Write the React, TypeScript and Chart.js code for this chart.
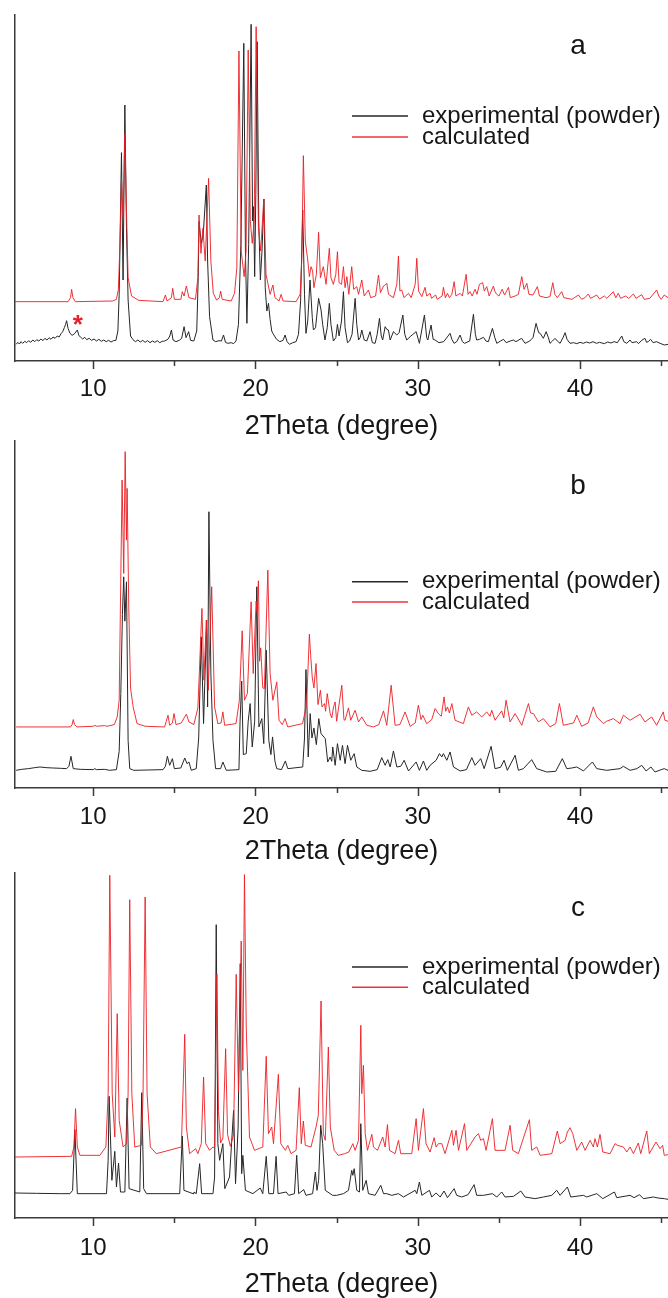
import React, { useEffect, useRef } from 'react';
import { Chart, registerables } from 'chart.js';

Chart.register(...registerables);

type P = [number, number];

// ---------- data ----------
const xTickLabels = [10, 20, 30, 40];
const minorTicks = [15, 25, 35, 45];
const seriesNames = ['experimental (powder)', 'calculated'];
const xTitle = '2Theta (degree)';
const X_MIN = 5.18;
const X_MAX = 45.42;
const starMark = { x: 9.05, y: 123 };

const expA: P[] = [[5.25,50],[5.35,56],[5.45,51],[5.55,58],[5.65,53],[5.78,59],[5.9,55],[6.02,61],[6.15,56],[6.28,63],[6.4,58],[6.52,64],[6.65,60],[6.78,66],[6.9,61],[7.02,68],[7.15,63],[7.28,70],[7.4,65],[7.52,72],[7.65,68],[7.78,75],[7.9,72],[8.02,82],[8.12,88],[8.22,100],[8.3,110],[8.36,121],[8.45,98],[8.57,83],[8.7,77],[8.85,82],[9.02,93],[9.12,76],[9.22,72],[9.35,66],[9.48,71],[9.6,64],[9.75,68],[9.9,62],[10.05,66],[10.2,60],[10.35,65],[10.5,59],[10.65,63],[10.8,58],[10.95,62],[11.1,57],[11.25,61],[11.4,62],[11.52,90],[11.6,200],[11.74,625],[11.84,243],[11.95,768],[12.05,400],[12.15,183],[12.3,75],[12.45,64],[12.6,58],[12.75,63],[12.9,57],[13.05,62],[13.2,56],[13.35,61],[13.5,55],[13.65,60],[13.8,56],[13.95,61],[14.1,55],[14.25,59],[14.4,60],[14.6,65],[14.72,75],[14.82,93],[14.92,63],[15.1,58],[15.3,62],[15.45,68],[15.6,103],[15.72,70],[15.88,88],[16.0,62],[16.2,60],[16.38,90],[16.47,250],[16.52,418],[16.66,353],[16.78,380],[16.97,528],[17.05,300],[17.17,133],[17.38,63],[17.55,58],[17.75,61],[17.9,60],[18.03,78],[18.15,56],[18.3,53],[18.5,55],[18.65,52],[18.8,60],[18.95,110],[19.1,350],[19.28,953],[19.38,330],[19.47,113],[19.58,350],[19.73,1010],[19.82,420],[19.88,463],[19.95,253],[20.02,500],[20.1,958],[20.2,420],[20.3,243],[20.4,330],[20.52,486],[20.6,220],[20.7,150],[20.8,173],[20.9,125],[21.0,90],[21.07,83],[21.3,65],[21.5,58],[21.7,62],[21.82,78],[21.95,58],[22.09,50],[22.3,55],[22.5,58],[22.65,80],[22.78,180],[22.91,453],[23.02,200],[23.11,83],[23.22,120],[23.36,243],[23.5,130],[23.57,93],[23.7,100],[23.89,188],[24.04,153],[24.14,110],[24.28,63],[24.42,100],[24.55,173],[24.65,110],[24.8,60],[24.95,70],[25.05,110],[25.15,75],[25.3,120],[25.42,208],[25.52,100],[25.67,55],[25.8,60],[25.95,80],[26.14,188],[26.24,110],[26.35,63],[26.45,70],[26.55,93],[26.7,63],[26.86,60],[27.06,88],[27.2,55],[27.37,53],[27.5,80],[27.64,128],[27.75,75],[27.84,63],[27.99,103],[28.09,95],[28.19,93],[28.3,63],[28.5,88],[28.71,78],[28.85,85],[29.08,138],[29.2,80],[29.32,63],[29.53,73],[29.7,80],[29.9,88],[30.1,53],[30.41,138],[30.55,70],[30.62,63],[30.82,108],[30.95,65],[31.07,63],[31.3,55],[31.6,58],[31.99,83],[32.1,65],[32.24,53],[32.4,58],[32.61,78],[32.75,58],[32.88,53],[33.2,60],[33.43,140],[33.55,80],[33.63,63],[33.8,65],[34.05,71],[34.2,60],[34.35,58],[34.6,98],[34.75,70],[34.87,53],[35.1,60],[35.28,65],[35.45,55],[35.7,60],[35.89,63],[36.05,58],[36.4,68],[36.61,53],[36.9,60],[37.1,70],[37.29,113],[37.45,85],[37.54,83],[37.74,68],[37.91,88],[38.05,70],[38.15,53],[38.3,60],[38.46,68],[38.6,60],[38.77,53],[38.95,70],[39.08,85],[39.2,65],[39.38,53],[39.6,55],[39.8,52],[40.0,56],[40.2,53],[40.4,57],[40.6,54],[40.8,58],[41.0,53],[41.2,56],[41.5,52],[41.7,57],[41.9,54],[42.1,58],[42.3,55],[42.57,75],[42.7,58],[42.88,53],[43.08,63],[43.2,55],[43.49,58],[43.6,52],[43.8,62],[44.0,68],[44.1,56],[44.2,58],[44.35,65],[44.5,55],[44.72,58],[44.93,53],[45.19,48],[45.42,50]];

const calcA: P[] = [[5.18,178],[8.45,178],[8.6,190],[8.67,215],[8.75,190],[8.9,178],[11.2,180],[11.43,185],[11.55,215],[11.65,350],[11.74,550],[11.84,430],[11.95,683],[12.05,450],[12.15,250],[12.36,195],[12.8,182],[14.3,178],[14.45,198],[14.55,180],[14.82,190],[14.9,218],[15.0,185],[15.4,185],[15.49,208],[15.6,195],[15.74,225],[15.9,190],[16.3,185],[16.45,250],[16.52,438],[16.64,323],[16.76,398],[16.9,300],[17.11,548],[17.25,300],[17.4,203],[17.6,183],[17.78,190],[17.85,210],[17.95,185],[18.5,180],[18.71,203],[18.85,280],[18.98,930],[19.12,330],[19.3,253],[19.42,330],[19.55,933],[19.68,420],[19.8,353],[19.92,420],[20.04,1003],[20.18,400],[20.32,330],[20.51,486],[20.65,260],[20.9,200],[21.07,228],[21.2,190],[21.45,180],[21.58,200],[21.7,180],[22.5,178],[22.75,200],[22.85,300],[22.95,616],[23.07,360],[23.22,303],[23.32,253],[23.42,283],[23.52,270],[23.6,220],[23.75,260],[23.89,386],[24.0,250],[24.18,283],[24.35,230],[24.55,338],[24.65,250],[24.8,230],[24.95,260],[25.05,328],[25.15,235],[25.3,230],[25.42,283],[25.52,220],[25.63,253],[25.75,200],[25.93,283],[26.05,215],[26.24,223],[26.35,200],[26.55,243],[26.7,195],[26.96,213],[27.1,190],[27.4,195],[27.58,258],[27.7,205],[27.89,225],[27.99,228],[28.09,233],[28.2,200],[28.5,190],[28.71,230],[28.81,315],[28.9,210],[29.01,213],[29.15,190],[29.43,203],[29.6,190],[29.84,230],[29.94,308],[30.05,210],[30.25,193],[30.45,221],[30.55,195],[30.76,203],[30.85,188],[31.1,198],[31.2,185],[31.5,195],[31.58,221],[31.7,190],[31.83,203],[31.95,190],[32.1,200],[32.24,238],[32.35,195],[32.61,203],[32.75,195],[32.98,260],[33.1,200],[33.22,208],[33.35,195],[33.53,215],[33.65,200],[33.8,230],[34.0,235],[34.1,210],[34.25,223],[34.4,195],[34.66,225],[34.76,208],[34.87,200],[35.0,195],[35.2,215],[35.35,198],[35.59,221],[35.7,190],[36.0,195],[36.2,200],[36.41,253],[36.55,215],[36.72,233],[36.85,200],[37.1,198],[37.37,223],[37.5,195],[37.9,190],[38.15,193],[38.32,235],[38.45,200],[38.6,190],[38.87,208],[39.0,190],[39.5,185],[39.9,198],[40.1,185],[40.3,190],[40.51,201],[40.65,188],[41.03,198],[41.2,186],[41.5,195],[41.65,188],[42.05,208],[42.2,190],[42.36,203],[42.5,188],[42.8,195],[43.0,188],[43.29,201],[43.45,188],[43.8,199],[43.95,185],[44.3,188],[44.72,213],[44.85,195],[45.0,185],[45.19,198],[45.42,190]];

const expB: P[] = [[5.25,53],[5.6,56],[6.0,58],[6.4,61],[6.72,63],[7.1,61],[7.5,60],[8.0,59],[8.36,58],[8.5,65],[8.63,95],[8.77,58],[9.2,56],[10.0,55],[10.1,58],[10.2,55],[10.7,56],[11.0,53],[11.43,55],[11.6,110],[11.7,283],[11.8,520],[11.88,633],[11.95,500],[12.05,618],[12.15,143],[12.25,58],[12.5,53],[14.3,55],[14.45,65],[14.57,95],[14.71,68],[14.88,88],[15.0,58],[15.4,60],[15.64,90],[15.78,73],[15.9,78],[16.04,53],[16.35,58],[16.5,150],[16.66,453],[16.8,193],[16.99,503],[17.05,243],[17.13,828],[17.25,343],[17.38,143],[17.54,58],[17.85,58],[17.99,78],[18.2,53],[18.98,55],[19.05,200],[19.15,320],[19.25,100],[19.43,103],[19.55,200],[19.67,253],[19.8,123],[19.95,200],[20.08,603],[20.21,183],[20.39,208],[20.51,133],[20.66,413],[20.82,143],[20.95,100],[21.05,153],[21.2,80],[21.31,58],[21.6,55],[21.84,81],[21.99,58],[22.91,63],[23.02,150],[23.11,355],[23.25,93],[23.37,223],[23.48,150],[23.6,180],[23.75,130],[23.9,208],[24.04,163],[24.3,148],[24.45,78],[24.6,93],[24.7,80],[24.76,123],[24.91,68],[25.05,133],[25.22,83],[25.36,128],[25.52,73],[25.67,128],[25.87,83],[26.08,103],[26.24,63],[26.55,53],[27.06,50],[27.5,55],[27.78,91],[27.99,68],[28.15,85],[28.3,63],[28.5,111],[28.71,63],[28.95,65],[29.16,83],[29.43,51],[29.9,78],[30.1,53],[30.35,81],[30.55,53],[30.76,68],[31.13,83],[31.34,103],[31.48,93],[31.58,103],[31.79,83],[31.99,108],[32.2,63],[32.61,51],[33.0,55],[33.33,91],[33.53,68],[33.88,88],[34.09,58],[34.52,125],[34.76,58],[35.1,62],[35.32,83],[35.52,53],[36.0,98],[36.2,53],[36.51,58],[37.02,85],[37.33,58],[37.95,48],[38.5,50],[38.91,88],[39.18,58],[39.5,60],[39.8,63],[40.21,51],[40.76,78],[41.03,58],[41.64,53],[42.46,58],[42.67,65],[43.08,53],[43.5,58],[43.8,68],[44.07,51],[44.37,63],[44.62,48],[45.0,55],[45.19,58],[45.42,53]];

const calcB: P[] = [[5.25,183],[8.6,183],[8.7,190],[8.77,205],[8.85,190],[9.0,183],[10.0,185],[10.1,188],[10.2,185],[10.7,187],[10.85,185],[11.3,190],[11.48,213],[11.6,263],[11.78,923],[11.88,643],[11.97,1008],[12.05,743],[12.09,898],[12.19,543],[12.3,300],[12.46,243],[12.7,193],[13.2,185],[14.4,183],[14.5,200],[14.61,218],[14.71,188],[14.88,195],[14.98,223],[15.1,190],[15.43,195],[15.6,210],[15.74,221],[15.9,198],[16.2,190],[16.45,240],[16.7,538],[16.82,323],[16.97,503],[17.09,293],[17.3,603],[17.48,243],[17.68,193],[17.88,195],[17.99,228],[18.1,188],[18.8,193],[19.0,260],[19.18,471],[19.32,263],[19.5,283],[19.73,558],[19.86,343],[20.04,560],[20.09,530],[20.18,621],[20.25,380],[20.32,420],[20.45,300],[20.55,298],[20.76,653],[20.9,343],[21.07,263],[21.31,318],[21.45,203],[21.65,190],[21.82,208],[21.99,183],[22.9,193],[23.15,250],[23.32,461],[23.4,398],[23.5,330],[23.6,300],[23.73,373],[23.85,250],[24.0,293],[24.1,243],[24.25,253],[24.32,230],[24.42,283],[24.6,223],[24.7,210],[24.81,243],[24.91,258],[25.0,200],[25.32,308],[25.45,205],[25.52,203],[25.73,240],[25.87,203],[26.14,233],[26.35,198],[26.55,213],[26.86,188],[27.27,183],[27.6,190],[27.89,231],[28.09,188],[28.36,308],[28.6,188],[28.9,190],[29.22,228],[29.53,185],[29.84,195],[30.04,248],[30.2,205],[30.31,218],[30.55,193],[30.86,205],[31.07,238],[31.27,223],[31.45,215],[31.62,273],[31.72,230],[31.83,243],[31.95,225],[32.1,253],[32.3,203],[32.81,193],[33.12,243],[33.33,218],[33.63,228],[33.94,213],[34.25,228],[34.45,215],[34.56,233],[34.76,203],[35.17,231],[35.3,210],[35.44,263],[35.69,198],[36.0,223],[36.41,188],[36.82,253],[36.95,225],[37.13,223],[37.43,198],[37.74,208],[38.15,183],[38.5,193],[38.73,253],[38.97,188],[39.6,195],[39.8,218],[40.1,185],[40.5,195],[40.82,243],[41.03,213],[41.44,193],[41.64,200],[42.05,208],[42.46,193],[42.67,218],[43.08,203],[43.7,221],[44.0,198],[44.41,213],[44.72,188],[45.13,228],[45.23,203],[45.42,200]];

const expC: P[] = [[5.18,75],[6.5,74],[8.0,73],[8.57,73],[8.73,83],[8.87,265],[9.02,73],[10.82,73],[10.92,173],[10.98,365],[11.15,113],[11.33,200],[11.43,93],[11.56,165],[11.68,78],[11.95,78],[12.09,360],[12.21,88],[12.87,78],[12.99,376],[13.11,88],[13.28,73],[15.33,73],[15.49,246],[15.59,83],[16.15,73],[16.21,78],[16.35,73],[16.56,163],[16.68,73],[17.38,73],[17.48,123],[17.58,880],[17.68,223],[17.79,173],[17.99,223],[18.11,88],[18.4,123],[18.65,323],[18.77,103],[18.93,273],[19.06,763],[19.15,133],[19.22,188],[19.38,83],[19.84,73],[20.29,90],[20.45,73],[20.66,185],[20.82,73],[21.11,73],[21.27,185],[21.39,73],[21.89,78],[22.05,68],[22.4,73],[22.54,188],[22.66,73],[22.97,85],[23.11,68],[23.52,73],[23.69,138],[23.79,83],[23.89,113],[24.02,278],[24.14,223],[24.3,83],[24.75,68],[25.0,68],[25.42,73],[25.73,83],[25.93,143],[26.0,128],[26.08,148],[26.24,83],[26.41,78],[26.49,283],[26.61,83],[26.82,113],[26.96,73],[27.37,68],[27.72,98],[27.89,73],[28.09,73],[28.4,68],[28.81,73],[29.12,63],[29.84,83],[29.94,73],[30.1,108],[30.25,68],[30.72,83],[30.86,63],[31.13,75],[31.38,63],[31.62,81],[31.83,61],[32.24,88],[32.4,68],[32.71,63],[33.1,70],[33.47,100],[33.63,68],[34.05,68],[34.6,73],[34.87,63],[35.17,78],[35.38,63],[35.9,65],[36.35,81],[36.61,63],[37.23,58],[37.74,63],[38.26,68],[38.56,83],[38.77,68],[39.22,93],[39.43,63],[40.21,68],[40.41,63],[41.03,73],[41.4,58],[42.12,78],[42.26,61],[43.08,68],[43.33,61],[43.66,70],[43.9,58],[44.52,63],[44.8,60],[45.19,58],[45.42,56]];

const calcC: P[] = [[5.18,183],[8.67,185],[8.81,213],[8.91,328],[9.02,213],[9.18,188],[10.41,188],[10.78,213],[10.92,373],[11.02,1028],[11.17,373],[11.33,243],[11.48,613],[11.6,293],[11.84,213],[12.05,223],[12.15,373],[12.25,955],[12.38,373],[12.56,213],[12.97,218],[13.07,373],[13.2,963],[13.32,373],[13.52,213],[13.89,193],[15.43,213],[15.53,373],[15.64,551],[15.74,273],[15.94,193],[16.31,208],[16.45,193],[16.66,223],[16.8,423],[16.93,223],[17.17,203],[17.32,211],[17.48,213],[17.62,731],[17.72,320],[17.85,225],[17.99,240],[18.16,508],[18.28,250],[18.45,215],[18.65,250],[18.81,731],[18.95,380],[19.12,831],[19.22,443],[19.32,1030],[19.43,573],[19.63,243],[19.94,203],[20.45,213],[20.66,485],[20.8,253],[21.0,273],[21.11,223],[21.41,431],[21.56,223],[21.84,203],[21.99,218],[22.19,193],[22.5,203],[22.7,391],[22.82,223],[22.95,291],[23.07,218],[23.42,213],[23.73,273],[23.87,308],[24.04,651],[24.18,253],[24.3,233],[24.49,513],[24.61,273],[24.85,203],[25.1,188],[25.5,193],[25.75,198],[26.0,223],[26.14,203],[26.35,233],[26.49,578],[26.55,373],[26.65,458],[26.76,253],[26.9,203],[27.17,251],[27.27,213],[27.52,203],[27.84,243],[27.99,213],[28.13,280],[28.26,203],[28.6,193],[28.81,233],[28.95,193],[29.63,193],[29.9,298],[30.04,203],[30.35,328],[30.51,223],[30.76,198],[31.01,241],[31.13,213],[31.27,223],[31.48,223],[31.68,193],[32.1,263],[32.2,218],[32.36,263],[32.51,203],[32.88,283],[33.02,203],[33.53,243],[33.74,253],[33.88,233],[34.05,238],[34.21,203],[34.6,298],[34.76,203],[35.38,203],[35.69,278],[35.85,203],[36.2,193],[36.88,295],[37.02,203],[37.33,213],[37.54,188],[38.26,193],[38.6,261],[38.77,223],[39.08,233],[39.22,258],[39.38,271],[39.55,253],[39.8,203],[40.1,228],[40.31,203],[40.62,233],[40.82,213],[40.92,238],[41.07,213],[41.23,251],[41.4,198],[41.85,193],[42.16,223],[42.3,218],[42.67,213],[42.88,198],[43.08,213],[43.29,193],[43.59,225],[43.74,193],[44.11,261],[44.27,193],[44.68,228],[44.93,208],[45.09,218],[45.19,188],[45.42,190]];

// ---------- styling / layout ----------
const FONT = "'Liberation Sans', Arial, Helvetica, sans-serif";
const RED = 'rgba(236,30,36,0.9)';
const BLACK = '#262626';
const AXIS = '#3a3a3a';
const TEXT = '#161616';
const STAR_RED = '#e8202a';

type PanelCfg = {
  id: string; exp: P[]; calc: P[]; yMax: number;
  top: number; height: number; areaTop: number; areaBottom: number;
  tickPad: number; titlePad: number; legendY: [number, number]; labelY: number; star?: boolean;
};

const panels: PanelCfg[] = [
  { id: 'a', exp: expA, calc: calcA, yMax: 1038, top: 0, height: 440, areaTop: 15, areaBottom: 361, tickPad: 16, titlePad: 0, legendY: [116, 137], labelY: 46, star: true },
  { id: 'b', exp: expB, calc: calcB, yMax: 1040, top: 440, height: 425, areaTop: 1, areaBottom: 348, tickPad: 17, titlePad: 0, legendY: [141.7, 162], labelY: 43.5 },
  { id: 'c', exp: expC, calc: calcC, yMax: 1035, top: 865, height: 433, areaTop: 8, areaBottom: 353, tickPad: 18, titlePad: 0, legendY: [102, 122.3], labelY: 43.3 },
];

function drawCentered(ctx: CanvasRenderingContext2D, text: string, cx: number, cy: number, font: string, color: string) {
  ctx.font = font;
  ctx.fillStyle = color;
  ctx.textAlign = 'center';
  ctx.textBaseline = 'alphabetic';
  const m = ctx.measureText(text);
  const asc = m.actualBoundingBoxAscent;
  const desc = m.actualBoundingBoxDescent;
  ctx.fillText(text, cx, cy + (asc - desc) / 2);
}

function makeOverlay(cfg: PanelCfg) {
  return {
    id: 'overlay_' + cfg.id,
    afterDraw(chart: any) {
      const ctx: CanvasRenderingContext2D = chart.ctx;
      const xs = chart.scales.x;
      const ys = chart.scales.y;
      const bottom = chart.chartArea.bottom;
      ctx.save();
      ctx.strokeStyle = AXIS;
      ctx.lineWidth = 1.5;
      const tick = (v: number, len: number) => {
        const px = Math.round(xs.getPixelForValue(v)) + 0.5;
        ctx.beginPath();
        ctx.moveTo(px, bottom);
        ctx.lineTo(px, bottom + len);
        ctx.stroke();
      };
      xTickLabels.forEach((v) => tick(v, 8));
      minorTicks.forEach((v) => tick(v, 5));

      const colors = [BLACK, RED];
      seriesNames.forEach((name, i) => {
        const y = cfg.legendY[i];
        ctx.strokeStyle = colors[i];
        ctx.lineWidth = 1.5;
        ctx.beginPath();
        ctx.moveTo(352, y);
        ctx.lineTo(408, y);
        ctx.stroke();
        ctx.fillStyle = TEXT;
        ctx.font = `24px ${FONT}`;
        ctx.textAlign = 'left';
        ctx.textBaseline = 'middle';
        ctx.fillText(name, 422, y);
      });

      drawCentered(ctx, cfg.id, 578, cfg.labelY, `28px ${FONT}`, TEXT);
      if (cfg.star) {
        drawCentered(ctx, '*', xs.getPixelForValue(starMark.x), ys.getPixelForValue(starMark.y), `bold 26px ${FONT}`, STAR_RED);
      }
      ctx.restore();
    },
  };
}

function Panel({ cfg }: { cfg: PanelCfg }) {
  const ref = useRef<HTMLCanvasElement>(null);
  useEffect(() => {
    if (!ref.current) return;
    const chart = new Chart(ref.current, {
      type: 'line',
      data: {
        datasets: [
          { label: seriesNames[1], data: cfg.calc.map(([x, y]) => ({ x, y })), borderColor: RED, borderWidth: 1, pointRadius: 0, tension: 0, fill: false },
          { label: seriesNames[0], data: cfg.exp.map(([x, y]) => ({ x, y })), borderColor: BLACK, borderWidth: 1, pointRadius: 0, tension: 0, fill: false },
        ],
      },
      options: {
        responsive: false,
        animation: false,
        events: [],
        layout: { padding: { left: 15, top: cfg.areaTop, right: 0, bottom: 0 } },
        plugins: { legend: { display: false }, tooltip: { enabled: false } },
        scales: {
          x: {
            type: 'linear',
            min: X_MIN,
            max: X_MAX,
            afterBuildTicks: (s: any) => { s.ticks = xTickLabels.map((v) => ({ value: v })); },
            afterFit: (s: any) => { s.height = cfg.height - cfg.areaBottom; },
            grid: { display: false, drawTicks: false, tickLength: 0 },
            border: { display: true, color: AXIS, width: 1.5 },
            ticks: {
              padding: cfg.tickPad, color: TEXT, maxRotation: 0, autoSkip: false,
              font: { family: FONT, size: 24, lineHeight: 1 },
              callback: (v: any) => String(v),
            },
            title: {
              display: true, text: xTitle, color: TEXT,
              font: { family: FONT, size: 27, lineHeight: 1 },
              padding: { top: 0, bottom: cfg.titlePad },
            },
          },
          y: {
            type: 'linear',
            min: 0,
            max: cfg.yMax,
            afterFit: (s: any) => { s.width = 0; },
            ticks: { display: false },
            grid: { display: false, drawTicks: false },
            border: { display: true, color: AXIS, width: 1.5 },
          },
        },
      } as any,
      plugins: [makeOverlay(cfg)],
    });
    return () => chart.destroy();
  }, [cfg]);
  return (
    <canvas
      ref={ref}
      width={668}
      height={cfg.height}
      style={{ position: 'absolute', left: 0, top: cfg.top, width: 668, height: cfg.height, display: 'block' }}
    />
  );
}

export default function App() {
  return (
    <div style={{ position: 'absolute', left: 0, top: 0, width: 668, height: 1298, background: '#fff' }}>
      {panels.map((p) => (
        <Panel key={p.id} cfg={p} />
      ))}
    </div>
  );
}
